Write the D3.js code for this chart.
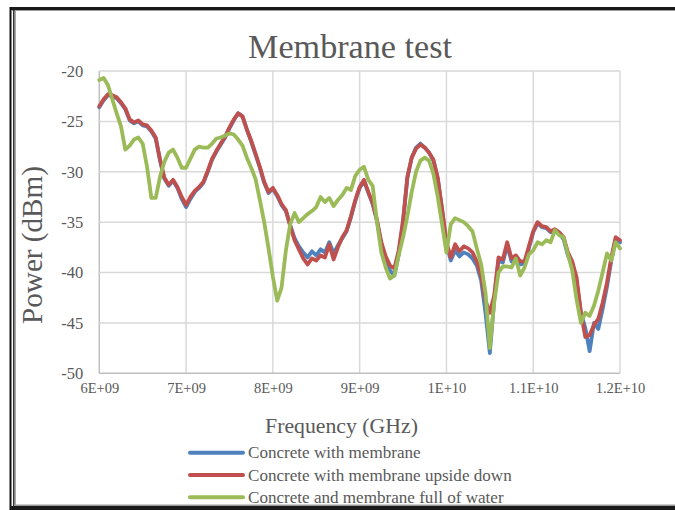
<!DOCTYPE html>
<html><head><meta charset="utf-8">
<script src="https://cdn.jsdelivr.net/npm/d3@7"></script>
<style>body{margin:0;background:#fff}svg{display:block}</style>
</head><body>
<svg id="c" width="675" height="510"></svg>
<script>
const freqGHz = [6.00,6.05,6.10,6.15,6.20,6.25,6.30,6.35,6.40,6.45,6.50,6.55,6.60,6.65,6.70,6.75,6.80,6.85,6.90,6.95,
7.00,7.05,7.10,7.15,7.20,7.25,7.30,7.35,7.40,7.45,7.50,7.55,7.60,7.65,7.70,7.75,7.80,7.85,7.90,7.95,
8.00,8.05,8.10,8.15,8.20,8.25,8.30,8.35,8.40,8.45,8.50,8.55,8.60,8.65,8.70,8.75,8.80,8.85,8.90,8.95,
9.00,9.05,9.10,9.15,9.20,9.25,9.30,9.35,9.40,9.45,9.50,9.55,9.60,9.65,9.70,9.75,9.80,9.85,9.90,9.95,
10.00,10.05,10.10,10.15,10.20,10.25,10.30,10.35,10.40,10.45,10.50,10.55,10.60,10.65,10.70,10.75,10.80,10.85,10.90,10.95,
11.00,11.05,11.10,11.15,11.20,11.25,11.30,11.35,11.40,11.45,11.50,11.55,11.60,11.65,11.70,11.75,11.80,11.85,11.90,11.95,12.00];

const withMembrane = [-23.6,-22.9,-22.4,-22.5,-22.7,-23.2,-23.8,-24.9,-25.2,-25.0,-25.4,-25.5,-26.0,-26.7,-28.9,-30.7,-31.4,-30.9,-31.6,-32.7,
-33.5,-32.7,-32.0,-31.6,-31.1,-30.0,-28.8,-28.0,-27.3,-26.6,-25.7,-24.9,-24.2,-24.5,-25.8,-27.0,-28.3,-29.6,-31.1,-32.1,
-31.7,-32.4,-33.3,-33.9,-35.3,-36.6,-37.4,-38.0,-38.5,-37.9,-38.3,-37.7,-38.0,-37.0,-38.1,-37.3,-36.6,-35.9,-34.5,-32.9,
-31.6,-30.9,-32.1,-33.2,-34.9,-37.2,-38.8,-39.8,-40.3,-38.2,-35.0,-30.6,-28.6,-27.6,-27.2,-27.6,-28.1,-28.9,-30.7,-33.8,
-37.2,-38.8,-37.8,-38.4,-38.0,-38.2,-38.6,-39.3,-40.8,-44.0,-48.0,-42.8,-38.8,-39.0,-37.3,-38.9,-38.6,-39.2,-39.1,-37.6,
-36.0,-35.1,-35.5,-35.6,-36.0,-35.8,-36.1,-36.7,-38.3,-39.3,-41.0,-44.0,-45.5,-47.8,-45.0,-45.6,-43.6,-41.4,-38.8,-36.7,-37.0];

const upsideDown = [-23.5,-22.8,-22.3,-22.4,-22.6,-23.1,-23.7,-24.8,-25.1,-24.9,-25.3,-25.4,-25.9,-26.6,-28.8,-30.6,-31.3,-30.8,-31.5,-32.5,
-33.3,-32.5,-31.9,-31.5,-31.0,-29.9,-28.7,-27.9,-27.2,-26.5,-25.6,-24.8,-24.2,-24.5,-25.8,-26.9,-28.2,-29.5,-31.0,-32.0,
-31.6,-32.3,-33.2,-33.8,-35.4,-36.8,-37.7,-38.6,-39.2,-38.6,-38.8,-38.3,-38.5,-37.2,-38.7,-37.5,-36.5,-35.8,-34.4,-32.8,
-31.5,-30.8,-32.0,-33.1,-34.8,-37.0,-38.4,-39.3,-39.6,-37.8,-34.8,-30.5,-28.6,-27.7,-27.3,-27.6,-28.1,-28.8,-30.6,-33.7,
-37.0,-38.5,-37.2,-37.9,-37.4,-37.6,-38.0,-38.9,-40.3,-42.8,-44.0,-42.3,-38.5,-38.7,-37.0,-38.6,-38.3,-38.9,-38.9,-37.4,
-35.9,-35.0,-35.4,-35.5,-35.9,-35.7,-36.0,-36.5,-38.0,-38.9,-40.5,-44.0,-46.4,-46.2,-45.2,-44.6,-43.0,-41.0,-38.5,-36.5,-36.8];

const fullOfWater = [-20.9,-20.7,-21.4,-22.8,-24.2,-25.5,-27.8,-27.4,-26.8,-26.6,-27.2,-29.5,-32.6,-32.6,-30.5,-29.0,-28.1,-27.8,-28.6,-29.6,
-29.6,-28.7,-27.8,-27.5,-27.6,-27.6,-27.2,-26.7,-26.6,-26.4,-26.2,-26.3,-26.8,-27.4,-28.6,-29.6,-30.7,-32.8,-35.0,-37.6,
-40.4,-42.8,-41.5,-37.8,-35.2,-34.1,-35.0,-34.6,-34.2,-33.9,-33.5,-32.5,-33.0,-32.6,-33.4,-32.8,-32.3,-31.6,-31.8,-30.4,
-29.8,-29.5,-30.8,-31.4,-35.0,-38.0,-39.5,-40.6,-40.3,-38.3,-36.5,-34.4,-32.0,-30.0,-28.9,-28.6,-28.9,-30.2,-32.5,-35.2,
-38.0,-35.2,-34.6,-34.8,-35.0,-35.4,-35.9,-37.6,-39.2,-42.0,-47.5,-43.0,-40.0,-39.4,-39.4,-39.5,-38.6,-40.3,-39.5,-38.2,
-37.8,-37.0,-37.2,-36.8,-37.0,-35.8,-36.3,-36.5,-38.2,-39.8,-42.7,-45.0,-44.0,-44.3,-43.3,-41.8,-40.0,-38.1,-38.8,-37.0,-37.6];

const seriesNames = ["Concrete with membrane","Concrete with membrane upside down","Concrete and membrane full of water"];
const seriesColors = ["#4f81bd","#c0504d","#9bbb59"];
const xTicks = [6e9,7e9,8e9,9e9,1e10,1.1e10,1.2e10];
const xTickLabels = ["6E+09","7E+09","8E+09","9E+09","1E+10","1.1E+10","1.2E+10"];
const yTicks = [-20,-25,-30,-35,-40,-45,-50];
const yTickLabels = ["-20","-25","-30","-35","-40","-45","-50"];
const titleText = "Membrane test";
const xTitle = "Frequency (GHz)";
const yTitle = "Power (dBm)";

const svg = d3.select("#c");
const FONT = "'Liberation Serif', 'DejaVu Serif', serif";
const TXT = "#595959";

// outer frame
const frame = svg.append("g");
frame.append("line").attr("x1",10).attr("x2",675).attr("y1",8.5).attr("y2",8.5).attr("stroke","#1a1a1a").attr("stroke-width",3);
frame.append("line").attr("x1",12).attr("x2",675).attr("y1",10.5).attr("y2",10.5).attr("stroke","#9a9a9a").attr("stroke-width",1);
frame.append("line").attr("x1",10.5).attr("x2",10.5).attr("y1",7).attr("y2",510).attr("stroke","#111").attr("stroke-width",2);
frame.append("line").attr("x1",13.8).attr("x2",13.8).attr("y1",10).attr("y2",510).attr("stroke","#333").attr("stroke-width",1.6);
frame.append("line").attr("x1",15.5).attr("x2",15.5).attr("y1",11).attr("y2",505).attr("stroke","#aaa").attr("stroke-width",1);
frame.append("line").attr("x1",10).attr("x2",675).attr("y1",508).attr("y2",508).attr("stroke","#1a1a1a").attr("stroke-width",4);
frame.append("line").attr("x1",14).attr("x2",675).attr("y1",505.3).attr("y2",505.3).attr("stroke","#9a9a9a").attr("stroke-width",1.5);

const x = d3.scaleLinear().domain([6e9,1.2e10]).range([99.3,620]);
const y = d3.scaleLinear().domain([-50,-20]).range([373.3,71]);

// gridlines
const grid = svg.append("g");
grid.selectAll("line.v").data(xTicks).join("line")
  .attr("x1",d=>x(d)).attr("x2",d=>x(d)).attr("y1",y(-20)).attr("y2",y(-50))
  .attr("stroke",(d,i)=> i===0 ? "#bfbfbf" : "#d9d9d9").attr("stroke-width",1.5);
grid.selectAll("line.h").data(yTicks).join("line")
  .attr("x1",x(6e9)).attr("x2",x(1.2e10)).attr("y1",d=>y(d)).attr("y2",d=>y(d))
  .attr("stroke",d=> d===-50 ? "#bfbfbf" : "#d9d9d9").attr("stroke-width",1.5);

// axes (labels only via d3 axis)
const xAxis = d3.axisBottom(x).tickValues(xTicks).tickFormat((d,i)=>xTickLabels[i]).tickSize(0).tickPadding(9);
const gx = svg.append("g").attr("transform",`translate(0,${y(-50)})`).call(xAxis);
gx.select(".domain").remove();
gx.selectAll("text").attr("fill",TXT).style("font-family",FONT).style("font-size","14.5px");

const yAxis = d3.axisLeft(y).tickValues(yTicks).tickFormat((d,i)=>yTickLabels[i]).tickSize(0).tickPadding(16);
const gy = svg.append("g").attr("transform",`translate(${x(6e9)},0)`).call(yAxis);
gy.select(".domain").remove();
gy.selectAll("text").attr("fill",TXT).style("font-family",FONT).style("font-size","16.5px");

// series
const all = [withMembrane, upsideDown, fullOfWater];
const line = d3.line().x((d,i)=>x(freqGHz[i]*1e9)).y(d=>y(d)).curve(d3.curveLinear);
svg.append("g").selectAll("path").data(all).join("path")
  .attr("d",line).attr("fill","none")
  .attr("stroke",(d,i)=>seriesColors[i]).attr("stroke-width",3.8)
  .attr("stroke-linejoin","round").attr("stroke-linecap","round");

function fit(sel, w){
  const n = sel.node(); const cur = parseFloat(sel.style("font-size"));
  const len = n.getComputedTextLength();
  if(len>0) sel.style("font-size",(cur*w/len)+"px");
}

// title
const t = svg.append("text").attr("x",350).attr("y",58).attr("text-anchor","middle")
  .attr("fill",TXT).style("font-family",FONT).style("font-size","30px").text(titleText);
fit(t,204);

// axis titles
const xt = svg.append("text").attr("x",341.5).attr("y",433).attr("text-anchor","middle")
  .attr("fill",TXT).style("font-family",FONT).style("font-size","20px").text(xTitle);
fit(xt,153);
const yt = svg.append("text").attr("transform","translate(42,245) rotate(-90)").attr("text-anchor","middle")
  .attr("fill",TXT).style("font-family",FONT).style("font-size","20px").text(yTitle);
fit(yt,158);

// legend
const lg = svg.append("g");
const legY = [452.7,475,497.3];
seriesNames.forEach((nm,i)=>{
  lg.append("line").attr("x1",190).attr("x2",243).attr("y1",legY[i]).attr("y2",legY[i])
    .attr("stroke",seriesColors[i]).attr("stroke-width",4).attr("stroke-linecap","round");
  const tx = lg.append("text").attr("x",248).attr("y",legY[i]+5.5).attr("fill",TXT)
    .style("font-family",FONT).style("font-size","16px").text(nm);
  if(i===1) fit(tx,264);
});
const fs = lg.selectAll("text").nodes()[1].style.fontSize;
lg.selectAll("text").style("font-size",fs);
</script>
</body></html>
